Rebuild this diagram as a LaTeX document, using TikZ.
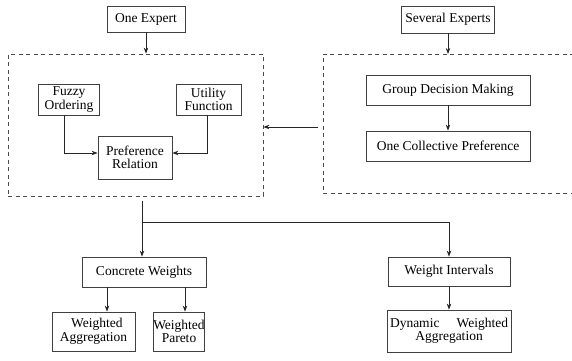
\documentclass[tikz,border=0pt]{standalone}
\usepackage{fontspec}
\setmainfont{Liberation Serif}
\usetikzlibrary{arrows.meta,calc}
\begin{document}
\begin{tikzpicture}[x=1pt,y=-1pt,
  font=\fontsize{13.5}{13.5}\selectfont,
  bx/.style={draw=black!75,line width=0.8pt,inner sep=0pt,align=center},
  dbox/.style={draw=black!70,line width=0.8pt,dash pattern=on 4pt off 3.5pt},
  arr/.style={draw=black!85,line width=0.8pt,-{Stealth[length=6pt,width=4.5pt]}},
  ln/.style={draw=black!85,line width=0.8pt}]
\useasboundingbox (0,0) rectangle (572,360);
% top experts
\node[bx,minimum width=78pt,minimum height=26pt] (one) at (146,19) {One Expert};
\node[bx,minimum width=93pt,minimum height=27pt] (sev) at (448,19.5) {Several Experts};
% dashed containers
\node[dbox,minimum width=255pt,minimum height=142pt,inner sep=0pt] (lbox) at (135.5,125) {};
\draw[dbox] (574,54) -- (323,54) -- (323,193) -- (574,193);
\coordinate (rtop) at (448,54);
% left inner
\node[bx,minimum width=61pt,minimum height=31pt] (fuzzy) at (69,99.5) {Fuzzy\\Ordering};
\node[bx,minimum width=65pt,minimum height=31pt] (util) at (208.5,99.5) {Utility\\Function};
\node[bx,minimum width=74pt,minimum height=43pt] (pref) at (135,157.5) {Preference\\Relation};
% right inner
\node[bx,minimum width=164pt,minimum height=30pt] (gdm) at (448,90) {Group Decision Making};
\node[bx,minimum width=164pt,minimum height=30pt] (ocp) at (448,146) {One Collective Preference};
% lower
\node[bx,minimum width=124pt,minimum height=30pt] (cw) at (144,272) {Concrete Weights};
\node[bx,minimum width=83pt,minimum height=39pt] (wa) at (93.5,331.5) {\ \ Weighted\\Aggregation};
\node[bx,minimum width=50pt,minimum height=39pt] (wp) at (179,331.5) {Weighted\\Pareto};
\node[bx,minimum width=122pt,minimum height=29pt] (wi) at (449,271.5) {Weight Intervals};
\node[bx,minimum width=124pt,minimum height=42pt] (dwa) at (449,331) {\makebox[118pt][s]{Dynamic\hfill Weighted}\\Aggregation};
% connectors
\draw[arr] (one.south) -- (one.south |- lbox.north);
\draw[arr] (sev.south) -- (rtop);
\draw[arr] ([xshift=-5pt]fuzzy.south) |- ([yshift=4.5pt]pref.west);
\draw[arr] ([xshift=-1.5pt]util.south) |- ([yshift=4.5pt]pref.east);
\draw[arr] (gdm.south) -- (ocp.north);
\coordinate (rstart) at (318,127);
\draw[arr] (rstart) -- (rstart -| lbox.east);
\coordinate (m0) at (142,201);
\coordinate (m1) at (142,222);
\draw[arr] (m0) -- (m0 |- cw.north);
\draw[arr] (m1) -| (wi.north);
\draw[arr] ([xshift=-37pt]cw.south) -- ([xshift=-37pt]cw.south |- wa.north);
\draw[arr] ([xshift=41pt]cw.south) -- ([xshift=41pt]cw.south |- wp.north);
\draw[arr] (wi.south) -- (dwa.north);
\end{tikzpicture}
\end{document}
